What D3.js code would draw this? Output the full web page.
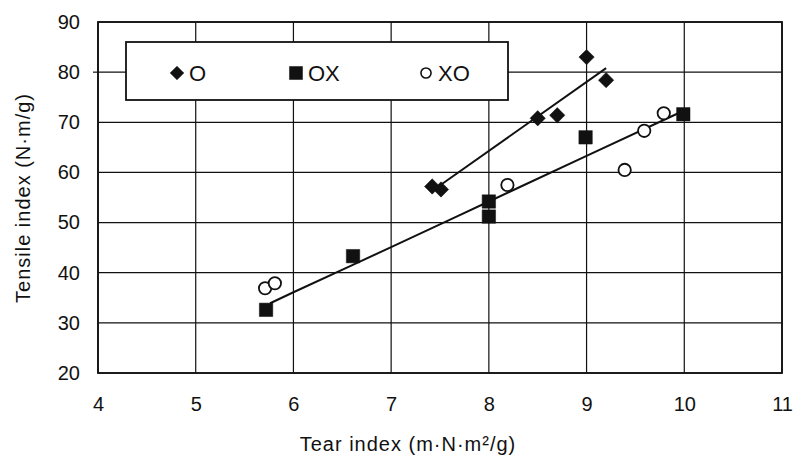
<!DOCTYPE html>
<html><head><meta charset="utf-8">
<script src="https://cdn.jsdelivr.net/npm/d3@7"></script>
<style>body{margin:0;background:#fff}svg{display:block}text{font-family:"Liberation Sans",Arial,sans-serif;fill:#111}</style>
</head><body><svg id="c" width="795" height="456"></svg>
<script>
// Data
const seriesNames = ["O", "OX", "XO"];
const oX  = [7.42, 7.51, 8.50, 8.70, 9.00, 9.20];
const oY  = [57.2, 56.6, 70.8, 71.4, 83.0, 78.4];
const oxX = [5.72, 6.61, 8.00, 8.00, 8.99, 9.99];
const oxY = [32.6, 43.3, 54.2, 51.2, 67.0, 71.6];
const xoX = [5.71, 5.81, 8.19, 9.39, 9.59, 9.79];
const xoY = [36.9, 37.9, 57.5, 60.5, 68.3, 71.8];
// fitted trend lines
const fitOX = [7.52, 9.20], fitOY = [57.7, 80.8];
const fitAllX = [5.76, 6.0, 7.0, 8.0, 9.0, 9.96], fitAllY = [33.9, 36.1, 45.1, 54.2, 63.3, 72.0];
const xTicks = [4, 5, 6, 7, 8, 9, 10, 11];
const yTicks = [20, 30, 40, 50, 60, 70, 80, 90];

const svg = d3.select("#c");
const L = 98, R = 782, T = 22, B = 373;
const x = d3.scaleLinear().domain([4, 11]).range([L, R]);
const y = d3.scaleLinear().domain([20, 90]).range([B, T]);

// gridlines
const g = svg.append("g");
g.selectAll("line.h").data(yTicks).join("line")
  .attr("x1", L).attr("x2", R).attr("y1", d => y(d)).attr("y2", d => y(d))
  .attr("stroke", "#111").attr("stroke-width", 1.2);
g.selectAll("line.v").data(xTicks).join("line")
  .attr("y1", T).attr("y2", B).attr("x1", d => x(d)).attr("x2", d => x(d))
  .attr("stroke", "#111").attr("stroke-width", 1.2);
// small outer tick at 80
svg.append("line").attr("x1", L - 5).attr("x2", L).attr("y1", y(80)).attr("y2", y(80))
  .attr("stroke", "#111").attr("stroke-width", 1.2);
// frame
svg.append("rect").attr("x", L).attr("y", T).attr("width", R - L).attr("height", B - T)
  .attr("fill", "none").attr("stroke", "#111").attr("stroke-width", 1.8);

// axes (labels only)
const xa = svg.append("g").attr("transform", `translate(0,${B})`)
  .call(d3.axisBottom(x).tickValues(xTicks).tickSize(0).tickPadding(24).tickFormat(d3.format("d")));
const ya = svg.append("g").attr("transform", `translate(${L},0)`)
  .call(d3.axisLeft(y).tickValues(yTicks).tickSize(0).tickPadding(18).tickFormat(d3.format("d")));
[xa, ya].forEach(a => {
  a.select(".domain").remove();
  a.selectAll("text").attr("font-size", 20).attr("font-family", "Liberation Sans, Arial, sans-serif").attr("fill", "#111");
});

// titles
svg.append("text").attr("x", 408).attr("y", 451).attr("text-anchor", "middle")
  .attr("font-size", 20).attr("letter-spacing", 1).text("Tear index (m·N·m²/g)");
svg.append("text").attr("transform", `translate(30,198) rotate(-90)`).attr("text-anchor", "middle")
  .attr("font-size", 20).attr("letter-spacing", 1).text("Tensile index (N·m/g)");

// lines
const line = d3.line().x(d => x(d[0])).y(d => y(d[1])).curve(d3.curveMonotoneX);
svg.append("path").datum(d3.zip(fitOX, fitOY)).attr("d", line)
  .attr("fill", "none").attr("stroke", "#111").attr("stroke-width", 2);
svg.append("path").datum(d3.zip(fitAllX, fitAllY)).attr("d", line)
  .attr("fill", "none").attr("stroke", "#111").attr("stroke-width", 2);

// markers
const sym = {
  O:  d3.symbol().type(d3.symbolDiamond2).size(150),
  OX: d3.symbol().type(d3.symbolSquare).size(180),
  XO: d3.symbol().type(d3.symbolCircle).size(120)
};
function drawMarkers(name, xs, ys) {
  svg.append("g").selectAll("path").data(d3.zip(xs, ys)).join("path")
    .attr("transform", d => `translate(${x(d[0])},${y(d[1])})`)
    .attr("d", sym[name]())
    .attr("fill", name === "XO" ? "#fff" : "#111")
    .attr("stroke", "#111").attr("stroke-width", name === "XO" ? 1.8 : 0.5);
}
drawMarkers("O", oX, oY);
drawMarkers("OX", oxX, oxY);
drawMarkers("XO", xoX, xoY);

// legend
const lg = svg.append("g");
lg.append("rect").attr("x", 126).attr("y", 42).attr("width", 382).attr("height", 58)
  .attr("fill", "#fff").attr("stroke", "#111").attr("stroke-width", 1.8);
const legX = [177, 296, 426];
seriesNames.forEach((n, i) => {
  lg.append("path").attr("transform", `translate(${legX[i]},73)`)
    .attr("d", (n === "O" ? d3.symbol().type(d3.symbolDiamond2).size(120)
               : n === "OX" ? d3.symbol().type(d3.symbolSquare).size(170)
               : d3.symbol().type(d3.symbolCircle).size(80))())
    .attr("fill", n === "XO" ? "#fff" : "#111").attr("stroke", "#111").attr("stroke-width", n === "XO" ? 1.6 : 0.5);
  lg.append("text").attr("x", legX[i] + 12).attr("y", 73).attr("dy", "0.36em")
    .attr("font-size", 22).text(n);
});
</script></body></html>
